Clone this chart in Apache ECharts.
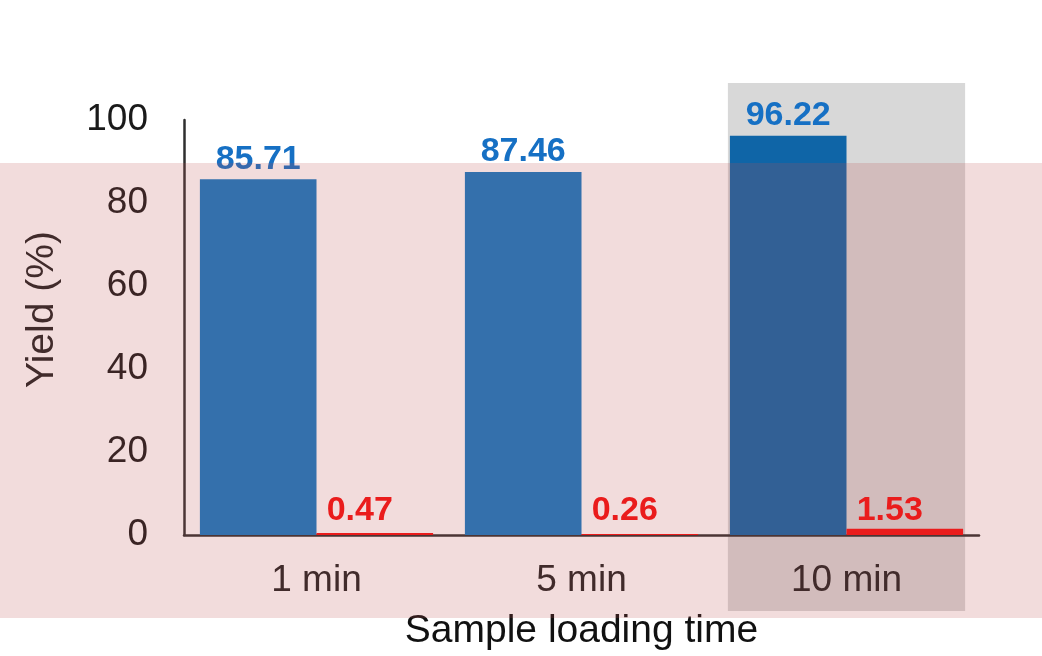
<!DOCTYPE html>
<html><head><meta charset="utf-8">
<script src="https://cdn.jsdelivr.net/npm/echarts@6/dist/echarts.min.js"></script>
<style>html,body{margin:0;padding:0;background:#fff}#c{width:1042px;height:656px}</style>
</head><body><div id="c"></div>
<script>
const categories = ['1 min', '5 min', '10 min'];
const blueValues = [85.71, 87.46, 96.22];
const redValues = [0.47, 0.26, 1.53];
const yTicks = [0, 20, 40, 60, 80, 100];
const highlightCategory = '10 min';

const blueColors = ['#1279c4', '#1279c4', '#0f65a7'];
const FONT = '"Liberation Sans", Arial, sans-serif';

const chart = echarts.init(document.getElementById('c'), null, {renderer: 'canvas'});
const option = {
  animation: false,
  backgroundColor: '#ffffff',
  grid: {left: 184, right: 63, top: 120, bottom: 120, containLabel: false},
  xAxis: {
    type: 'category',
    z: 2,
    data: categories,
    axisLine: {show: true, lineStyle: {color: '#2f2f2f', width: 2.5}},
    axisTick: {show: false},
    axisLabel: {color: '#222', fontSize: 37, fontFamily: FONT, margin: 27},
    name: 'Sample loading time',
    nameLocation: 'middle',
    nameGap: 77,
    nameTextStyle: {color: '#111', fontSize: 39, fontFamily: FONT}
  },
  yAxis: {
    type: 'value',
    z: 2,
    min: yTicks[0],
    max: yTicks[yTicks.length - 1],
    interval: yTicks[1] - yTicks[0],
    splitLine: {show: false},
    axisLine: {show: true, lineStyle: {color: '#2f2f2f', width: 2.5}},
    axisTick: {show: false},
    axisLabel: {color: '#1a1a1a', fontSize: 37, fontFamily: FONT, margin: 36},
    name: 'Yield (%)',
    nameLocation: 'middle',
    nameRotate: 90,
    nameGap: 122,
    nameTextStyle: {color: '#222', fontSize: 39, fontFamily: FONT, padding: [0, 0, 0, 36]}
  },
  series: [
    {
      type: 'bar',
      data: blueValues.map((v, i) => ({value: v, itemStyle: {color: blueColors[i]}})),
      barGap: '0%',
      barCategoryGap: '12%',
      z: 3,
      label: {
        show: true, position: 'top', distance: 3,
        color: '#1670c4', fontSize: 34, fontWeight: 'bold', fontFamily: FONT,
        formatter: p => p.value.toFixed(2)
      }
    },
    {
      type: 'bar',
      data: redValues,
      barGap: '0%',
      barCategoryGap: '12%',
      itemStyle: {color: '#f51010'},
      z: 3,
      label: {
        show: true, position: 'insideBottom', distance: 7, offset: [-15, 0],
        color: '#f51010', fontSize: 34, fontWeight: 'bold', fontFamily: FONT,
        formatter: p => p.value.toFixed(2)
      }
    }
  ]
};
chart.setOption(option);

// decorative highlight boxes computed from the axis scale
const center = chart.convertToPixel({xAxisIndex: 0}, highlightCategory);
const gridW = 1042 - 184 - 63;
const band = gridW / categories.length;
const barW = band * (1 - 0.12) / 2;
const half = barW + 2;
chart.setOption({
  graphic: {
    elements: [
      {type: 'rect', z: 1, silent: true,
       shape: {x: center - half, y: 83, width: half * 2, height: 528},
       style: {fill: '#d8d8d8'}},
      {type: 'rect', z: 50, silent: true,
       shape: {x: 0, y: 163, width: 1042, height: 455},
       style: {fill: 'rgba(190,80,80,0.2)'}}
    ]
  }
});
</script>
</body></html>
